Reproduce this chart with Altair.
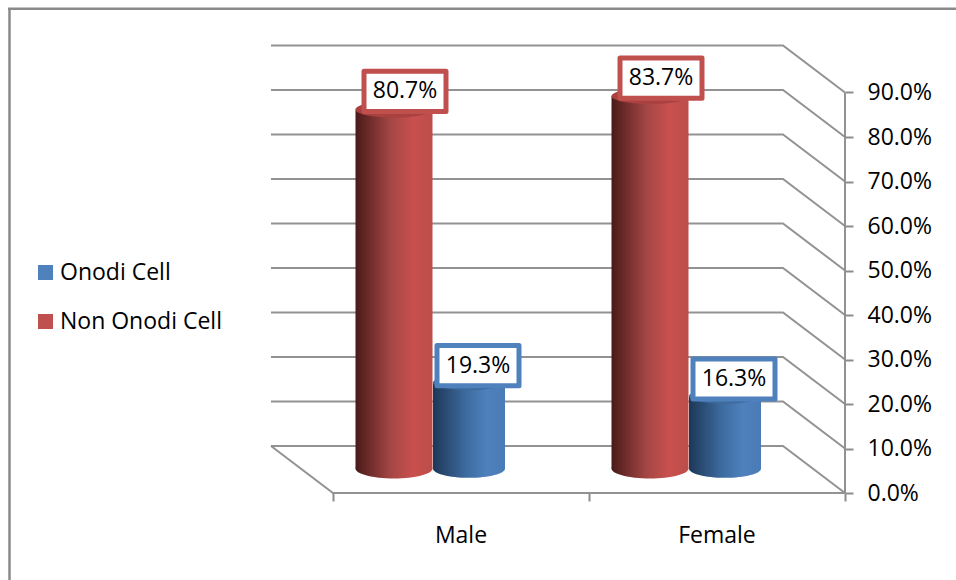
import altair as alt
import pandas as pd

# Chart values
categories = ["Male", "Female"]
onodi_cell = [19.3, 16.3]
non_onodi_cell = [80.7, 83.7]
axis_ticks = [0, 10, 20, 30, 40, 50, 60, 70, 80, 90]

# Geometry of the oblique projection, in axis units
PX_PER_UNIT = 4.45
CAT_PX = 256.0
PLOT_W, PLOT_H = 845, 493
WALL_DY = 47 / PX_PER_UNIT       # rear wall lifted above the front edge
WALL_DX = 62 / CAT_PX            # rear wall shifted left of the front edge
BASE_DY = 24.5 / PX_PER_UNIT     # cylinder bases sit part way back on the floor
RED_W = 77
BLUE_W = 72

FONT = "Open Sans"
FONT_SIZE = 23
GREY = "#8c8c8c"
RED = "#c0504d"
BLUE = "#4f81bd"

x_scale = alt.Scale(domain=[2 - PLOT_W / CAT_PX, 2], range=[0, PLOT_W], nice=False, zero=False)
y_scale = alt.Scale(domain=[0, PLOT_H / PX_PER_UNIT], range=[PLOT_H, 0], nice=False, zero=False)
X = lambda f: alt.X(f, type="quantitative", scale=x_scale)
Y = lambda f: alt.Y(f, type="quantitative", scale=y_scale)

# Value axis on the right and category ticks along the floor
ax_df = pd.DataFrame({"t": axis_ticks, "c": [0, 1, 2] + [2] * 7})
axes = alt.Chart(ax_df).mark_point(opacity=0).encode(
    x=alt.X("c:Q", scale=x_scale, axis=alt.Axis(
        orient="bottom", values=[0, 1, 2], labels=False, title=None, domain=False, grid=False,
        tickColor=GREY, tickWidth=2, tickSize=8)),
    y=alt.Y("t:Q", scale=y_scale, axis=alt.Axis(
        orient="right", values=axis_ticks, title=None, domain=False, grid=False,
        tickColor=GREY, tickWidth=2, tickSize=8, labelPadding=14,
        labelExpr="format(datum.value, '.1f') + '%'",
        labelFont=FONT, labelFontSize=FONT_SIZE, labelColor="black", labelBaseline="middle")),
)

# Gridlines folded across the rear wall and right wall, and the floor outline
grid_rows = []
for t in axis_ticks:
    for order, (gx, gy) in enumerate([(-WALL_DX, t + WALL_DY), (2 - WALL_DX, t + WALL_DY), (2, t)]):
        grid_rows.append({"line": f"g{t}", "order": order, "gx": gx, "gy": gy})
for order, (gx, gy) in enumerate([(-WALL_DX, WALL_DY), (0, 0), (2, 0)]):
    grid_rows.append({"line": "floor", "order": order, "gx": gx, "gy": gy})
for order, (gx, gy) in enumerate([(2, 0), (2, 90)]):
    grid_rows.append({"line": "axis", "order": order, "gx": gx, "gy": gy})

grid = alt.Chart(pd.DataFrame(grid_rows)).mark_line(color=GREY, strokeWidth=2, opacity=0.95).encode(
    x=X("gx"), y=Y("gy"), detail="line:N", order="order:Q"
)

# Cylinder positions per series and category
group_rows = []
for i, cat in enumerate(categories):
    group_rows.append({"cat": cat, "value": non_onodi_cell[i], "tone": "red",
                       "left": i + 22.5 / CAT_PX, "width": RED_W, "label_dx": 11, "label_dy": 18})
    group_rows.append({"cat": cat, "value": onodi_cell[i], "tone": "blue",
                       "left": i + 100 / CAT_PX, "width": BLUE_W, "label_dx": 9, "label_dy": 17})
bars = pd.DataFrame(group_rows)
bars["right"] = bars["left"] + bars["width"] / CAT_PX
bars["mid"] = bars["left"] + bars["width"] / CAT_PX / 2
bars["base"] = BASE_DY
bars["top"] = bars["value"] + BASE_DY
bars["label_y"] = bars["top"] + bars["label_dy"] / PX_PER_UNIT
bars["label_x"] = bars["mid"] + bars["label_dx"] / CAT_PX


def side_fill(dark, mid, light, rim):
    return alt.Gradient(
        gradient="linear", x1=0, x2=1, y1=0, y2=0,
        stops=[
            alt.GradientStop(offset=0, color=dark),
            alt.GradientStop(offset=0.45, color=mid),
            alt.GradientStop(offset=0.75, color=light),
            alt.GradientStop(offset=1, color=rim),
        ],
    )


TONES = {
    "red": {"side": side_fill("#4a1a19", "#a34644", "#c9504e", "#bb4d4a"), "cap": "#a8413f",
            "edge": RED, "width": RED_W},
    "blue": {"side": side_fill("#1d3857", "#3d6a9e", "#4f81bd", "#4a7bb6"), "cap": "#3e6a9c",
             "edge": BLUE, "width": BLUE_W},
}

BASE_ELLIPSE = "M-1,0A1,0.26 0 1,1 1,0A1,0.26 0 1,1 -1,0Z"
CAP_ELLIPSE = "M-1,0A1,0.21 0 1,1 1,0A1,0.21 0 1,1 -1,0Z"
BOX = "M-1,-0.49H1V0.49H-1Z"

layers = [axes, grid]
for tone in ["red", "blue"]:
    sub = bars[bars["tone"] == tone]
    style = TONES[tone]
    size = style["width"] ** 2
    layers.append(alt.Chart(sub).mark_point(shape=BASE_ELLIPSE, size=size, filled=True, fill=style["side"], opacity=1, strokeWidth=0).encode(
        x=X("mid"), y=Y("base")))
    layers.append(alt.Chart(sub).mark_rect(fill=style["side"], strokeWidth=0).encode(
        x=X("left"), x2="right", y=Y("base"), y2="top"))
    layers.append(alt.Chart(sub).mark_point(shape=CAP_ELLIPSE, size=size, filled=True, fill=style["cap"], opacity=1, strokeWidth=0).encode(
        x=X("mid"), y=Y("top")))

# Value labels in white boxes outlined in the series colour
for tone in ["red", "blue"]:
    sub = bars[bars["tone"] == tone]
    edge = TONES[tone]["edge"]
    layers.append(alt.Chart(sub).mark_point(shape=BOX, size=82 ** 2, filled=True, fill="white", stroke=edge,
                                            strokeWidth=5, strokeJoin="round", opacity=1).encode(
        x=X("label_x"), y=Y("label_y")))
    layers.append(alt.Chart(sub).transform_calculate(text="format(datum.value, '.1f') + '%'").mark_text(
        font=FONT, fontSize=FONT_SIZE, color="black", align="center", baseline="middle").encode(
        x=X("label_x"), y=Y("label_y"), text="text:N"))

# Category names under the floor
cat_df = pd.DataFrame({"cat": categories, "pos": [0.5, 1.5], "under": [-9.6, -9.6]})
layers.append(alt.Chart(cat_df).mark_text(font=FONT, fontSize=FONT_SIZE, color="black", align="center", baseline="middle").encode(
    x=X("pos"), y=Y("under"), text="cat:N"))

# Legend entries carried by a hidden layer
legend_df = pd.DataFrame({"series": ["Onodi Cell", "Non Onodi Cell"], "lx": [0, 0], "ly": [0, 0]})
layers.append(alt.Chart(legend_df).mark_square(opacity=0, size=100).encode(
    x=X("lx"),
    y=Y("ly"),
    color=alt.Color("series:N",
        scale=alt.Scale(domain=["Onodi Cell", "Non Onodi Cell"], range=[BLUE, RED]),
        legend=alt.Legend(orient="none", legendX=34, legendY=261, title=None,
                          symbolType="square", symbolSize=225, symbolOpacity=1, symbolStrokeWidth=0,
                          labelFont=FONT, labelFontSize=FONT_SIZE, labelColor="black", labelLimit=300,
                          rowPadding=25, labelOffset=3)),
))

# Outer frame: top and left edges only
edge_df = pd.DataFrame({"k": ["frame"]})
frame_top = alt.Chart(edge_df).mark_rule(stroke="#8a8a8a", strokeWidth=2.5).encode(
    x=alt.value(8), x2=alt.value(956), y=alt.value(8.7))
frame_left = alt.Chart(edge_df).mark_rule(stroke="#8a8a8a", strokeWidth=2.5).encode(
    x=alt.value(9.5), y=alt.value(8), y2=alt.value(580))

chart = alt.layer(*layers, frame_top, frame_left).resolve_scale(x="shared", y="shared").properties(
    width=PLOT_W, height=PLOT_H, background="white",
    padding={"left": 0, "top": 0, "right": 956 - PLOT_W, "bottom": 580 - PLOT_H},
    autosize=alt.AutoSizeParams(type="none"),
).configure_view(stroke=None)

chart.save("out.html", embed_options={"renderer": "svg", "actions": False})
